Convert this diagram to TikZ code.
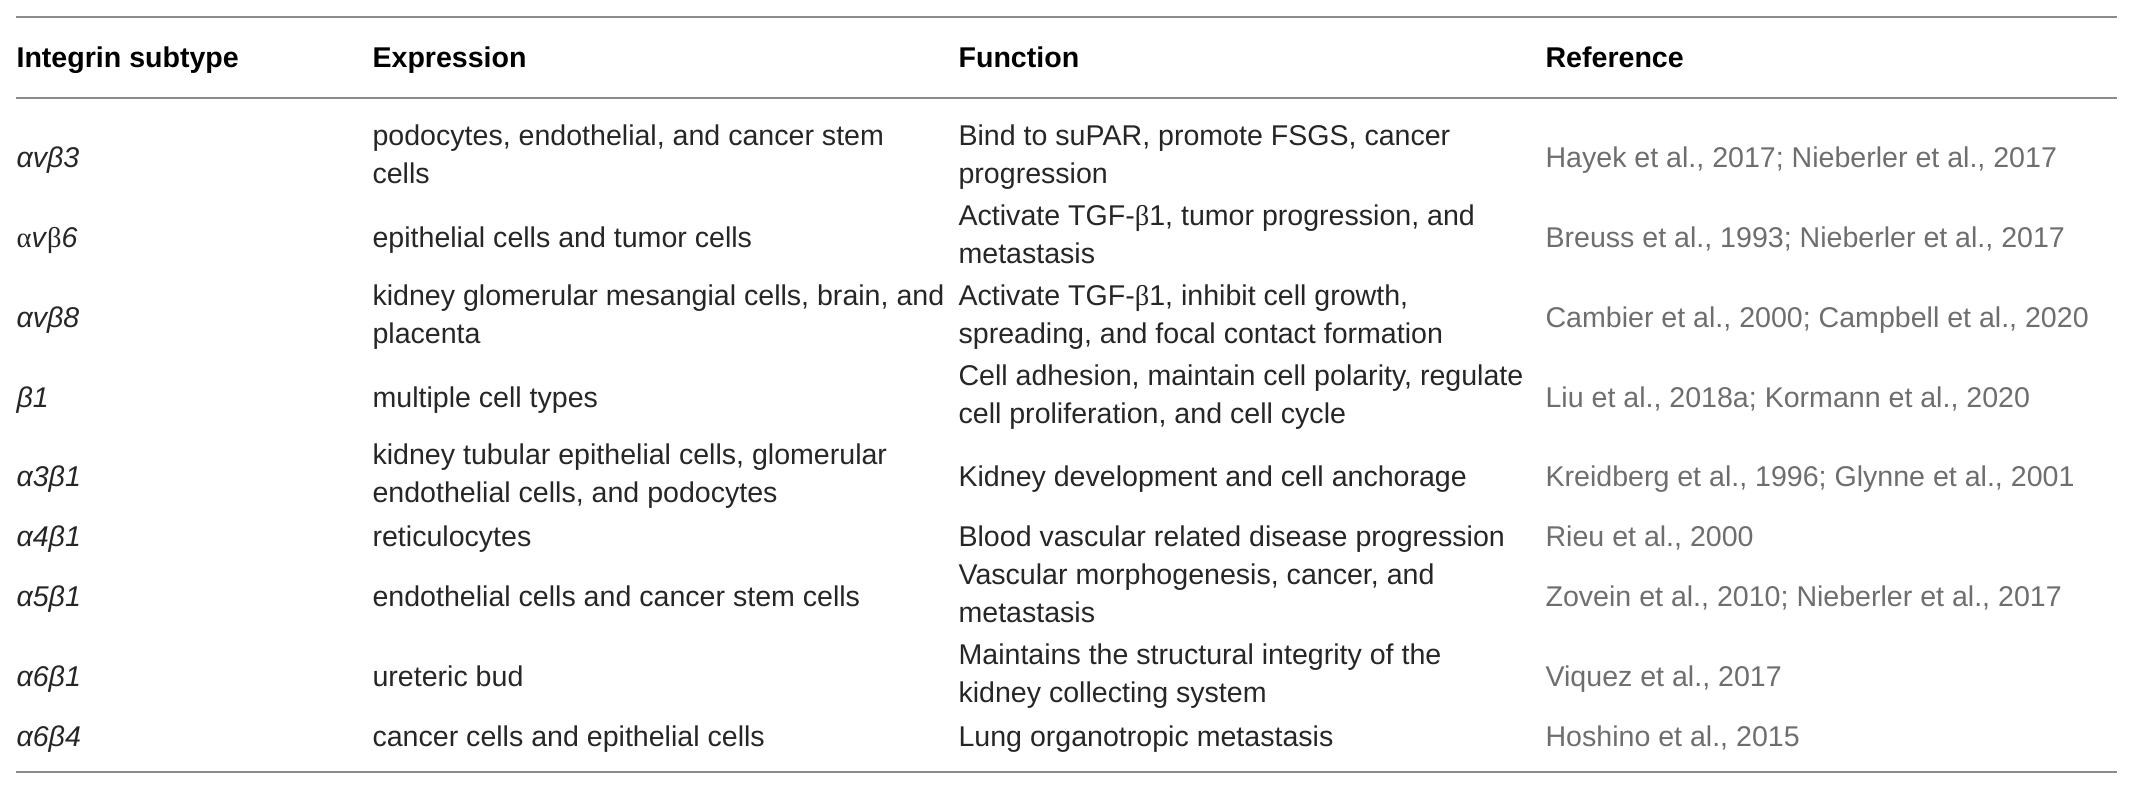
\documentclass[tikz,border=0pt]{standalone}
\usepackage{fontspec}
\setmainfont{Liberation Sans}
\newfontfamily\symgreek{Liberation Serif}
\usetikzlibrary{positioning}
\definecolor{rulegray}{HTML}{8C8C8C}
\definecolor{bodyink}{HTML}{262626}
\definecolor{refgray}{HTML}{6E6E6E}
\newcommand{\cellfont}{\fontsize{10}{13.3}\selectfont}
\newcommand{\upa}{{\symgreek α}}
\newcommand{\upb}{{\symgreek β}}
\tikzset{
  cell/.style = {anchor=west, align=left, inner sep=0pt,
                 text=bodyink, font=\cellfont,
                 execute at begin node=\strut,
                 execute at end node=\strut},
  head/.style = {cell, text=black, font=\cellfont\bfseries},
  sub/.style  = {cell, font=\cellfont\itshape},
  ref/.style  = {cell, text=refgray},
  rule/.style = {draw=rulegray, line width=0.7pt}
}

\begin{document}
\begin{tikzpicture}[x=0.35pt,y=-0.35pt]
  \useasboundingbox (0,0) rectangle (2142,792);

  % rules
  \coordinate (topL) at (16,17);   \coordinate (topR) at (2117,17);
  \coordinate (midL) at (16,98);   \coordinate (midR) at (2117,98);
  \coordinate (botL) at (16,772);  \coordinate (botR) at (2117,772);
  \draw[rule] (topL) -- (topR);
  \draw[rule] (midL) -- (midR);
  \draw[rule,line width=0.8pt] (botL) -- (botR);

  % header
  \node[head] (hsub) at (16,60)   {Integrin subtype};
  \node[head] (hexp) at (372,60)  {Expression};
  \node[head] (hfun) at (958,60)  {Function};
  \node[head] (href) at (1545,60) {Reference};

  % rows
  \node[sub] (sub1) at (16,160)   {αvβ3};
  \node[cell] (exp1) at (372,160) {podocytes, endothelial, and cancer stem\\cells};
  \node[cell] (fun1) at (958,160) {Bind to suPAR, promote FSGS, cancer\\progression};
  \node[ref] (ref1) at (1545,160) {Hayek et al., 2017; Nieberler et al., 2017};

  \node[cell] (sub2) at (16,240)  {\upa\textit{v}\upb\textit{6}};
  \node[cell] (exp2) at (372,240) {epithelial cells and tumor cells};
  \node[cell] (fun2) at (958,240) {Activate TGF-\upb1, tumor progression, and\\metastasis};
  \node[ref] (ref2) at (1545,240) {Breuss et al., 1993; Nieberler et al., 2017};

  \node[sub] (sub3) at (16,320)   {αvβ8};
  \node[cell] (exp3) at (372,320) {kidney glomerular mesangial cells, brain, and\\placenta};
  \node[cell] (fun3) at (958,320) {Activate TGF-\upb1, inhibit cell growth,\\spreading, and focal contact formation};
  \node[ref] (ref3) at (1545,320) {Cambier et al., 2000; Campbell et al., 2020};

  \node[sub] (sub4) at (16,400)   {β1};
  \node[cell] (exp4) at (372,400) {multiple cell types};
  \node[cell] (fun4) at (958,400) {Cell adhesion, maintain cell polarity, regulate\\cell proliferation, and cell cycle};
  \node[ref] (ref4) at (1545,400) {Liu et al., 2018a; Kormann et al., 2020};

  \node[sub] (sub5) at (16,479)   {α3β1};
  \node[cell] (exp5) at (372,479) {kidney tubular epithelial cells, glomerular\\endothelial cells, and podocytes};
  \node[cell] (fun5) at (958,479) {Kidney development and cell anchorage};
  \node[ref] (ref5) at (1545,479) {Kreidberg et al., 1996; Glynne et al., 2001};

  \node[sub] (sub6) at (16,539)   {α4β1};
  \node[cell] (exp6) at (372,539) {reticulocytes};
  \node[cell] (fun6) at (958,539) {Blood vascular related disease progression};
  \node[ref] (ref6) at (1545,539) {Rieu et al., 2000};

  \node[sub] (sub7) at (16,599)   {α5β1};
  \node[cell] (exp7) at (372,599) {endothelial cells and cancer stem cells};
  \node[cell] (fun7) at (958,599) {Vascular morphogenesis, cancer, and\\metastasis};
  \node[ref] (ref7) at (1545,599) {Zovein et al., 2010; Nieberler et al., 2017};

  \node[sub] (sub8) at (16,679)   {α6β1};
  \node[cell] (exp8) at (372,679) {ureteric bud};
  \node[cell] (fun8) at (958,679) {Maintains the structural integrity of the\\kidney collecting system};
  \node[ref] (ref8) at (1545,679) {Viquez et al., 2017};

  \node[sub] (sub9) at (16,739)   {α6β4};
  \node[cell] (exp9) at (372,739) {cancer cells and epithelial cells};
  \node[cell] (fun9) at (958,739) {Lung organotropic metastasis};
  \node[ref] (ref9) at (1545,739) {Hoshino et al., 2015};
\end{tikzpicture}
\end{document}
